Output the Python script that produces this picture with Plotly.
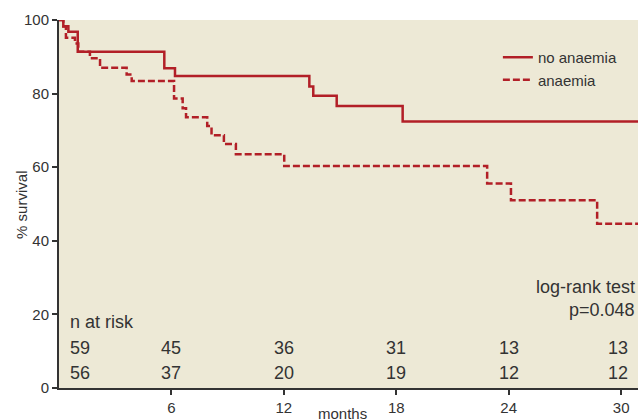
import plotly.graph_objects as go

# Kaplan-Meier step data (months, % survival)
no_anaemia_t = [0, 0.23, 0.50, 1.00, 5.62, 6.19, 13.36, 13.57, 14.82, 18.34, 30.9]
no_anaemia_s = [100, 98.3, 96.8, 91.4, 86.9, 84.8, 81.9, 79.4, 76.6, 72.4, 72.4]

anaemia_t = [0, 0.23, 0.37, 0.85, 1.03, 1.65, 2.19, 3.61, 3.88, 6.14, 6.60, 6.78,
             7.91, 8.14, 8.80, 9.44, 12.02, 22.85, 24.12, 28.72, 30.9]
anaemia_s = [100, 98.2, 95.2, 93.6, 91.4, 89.6, 87.0, 85.2, 83.4, 78.7, 76.0, 73.6,
             71.2, 68.7, 66.3, 63.5, 60.3, 55.6, 51.0, 44.6, 44.6]

x_ticks = [6, 12, 18, 24, 30]
y_ticks = [0, 20, 40, 60, 80, 100]

risk_times = [0, 6, 12, 18, 24, 30]
risk_no_anaemia = [59, 45, 36, 31, 13, 13]
risk_anaemia = [56, 37, 20, 19, 12, 12]

RED = "#B21F27"
TXT = "#333333"
BG = "#EDE9D6"
FONT = "Liberation Sans, Arial, sans-serif"
NARROW = "Liberation Sans Narrow, Arial Narrow, sans-serif"

fig = go.Figure()
fig.add_trace(go.Scatter(x=no_anaemia_t, y=no_anaemia_s, mode="lines", line_shape="hv",
                         name="no anaemia", line=dict(color=RED, width=2.5)))
fig.add_trace(go.Scatter(x=anaemia_t, y=anaemia_s, mode="lines", line_shape="hv",
                         name="anaemia", line=dict(color=RED, width=2.5, dash="7px,3px")))

ann = []
ann.append(dict(x=0.48, y=18.0, xref="x", yref="y", text="n at risk", showarrow=False,
                xanchor="left", yanchor="middle", font=dict(family=FONT, size=18, color=TXT)))
for i, t in enumerate(risk_times):
    shift = 21 if i == 0 else (-3 if i == len(risk_times) - 1 else 0)
    for val, yy in ((risk_no_anaemia[i], 10.8), (risk_anaemia[i], 4.2)):
        ann.append(dict(x=t, y=yy, xref="x", yref="y", text=str(val), showarrow=False,
                        xanchor="center", yanchor="middle", xshift=shift,
                        font=dict(family=FONT, size=18, color=TXT)))
ann.append(dict(x=0.9975, y=27.4, xref="paper", yref="y", text="log-rank test", showarrow=False,
                xanchor="right", yanchor="middle", font=dict(family=FONT, size=18, color=TXT)))
ann.append(dict(x=0.9975, y=21.2, xref="paper", yref="y", text="p=0.048", showarrow=False,
                xanchor="right", yanchor="middle", font=dict(family=FONT, size=18, color=TXT)))
ann.append(dict(x=0.4905, y=-0.068, xref="paper", yref="paper", text="months", showarrow=False,
                xanchor="center", yanchor="middle", font=dict(family=FONT, size=15, color=TXT)))
ann.append(dict(x=-0.066, y=0.497, xref="paper", yref="paper", text="% survival", showarrow=False,
                textangle=-90, xanchor="center", yanchor="middle",
                font=dict(family=FONT, size=15, color=TXT)))

fig.update_layout(
    width=638, height=419,
    margin=dict(l=59, r=0, t=20, b=31),
    paper_bgcolor="white", plot_bgcolor=BG,
    showlegend=True,
    legend=dict(x=0.758, y=0.943, xanchor="left", yanchor="top", bgcolor="rgba(0,0,0,0)",
                font=dict(family=FONT, size=15, color=TXT), tracegroupgap=0),
    annotations=ann,
    xaxis=dict(range=[0, 30.9], tickvals=x_ticks, showgrid=False, zeroline=False,
               showline=True, linecolor=TXT, linewidth=2, ticks="outside", ticklen=5,
               tickwidth=1.5, tickcolor=TXT, automargin=False,
               tickfont=dict(family=NARROW, size=15, color=TXT)),
    yaxis=dict(range=[0, 100], tickvals=y_ticks, showgrid=False, zeroline=False,
               showline=True, linecolor=TXT, linewidth=2, ticks="outside", ticklen=5,
               tickwidth=1.5, tickcolor=TXT, automargin=False,
               tickfont=dict(family=NARROW, size=15, color=TXT)),
)

# remove the browser's default 8px page margin so the figure fills the window exactly
fig.write_html(
    "out.html",
    config={"displayModeBar": False},
    post_script="document.body.style.margin='0';document.body.style.padding='0';",
)
